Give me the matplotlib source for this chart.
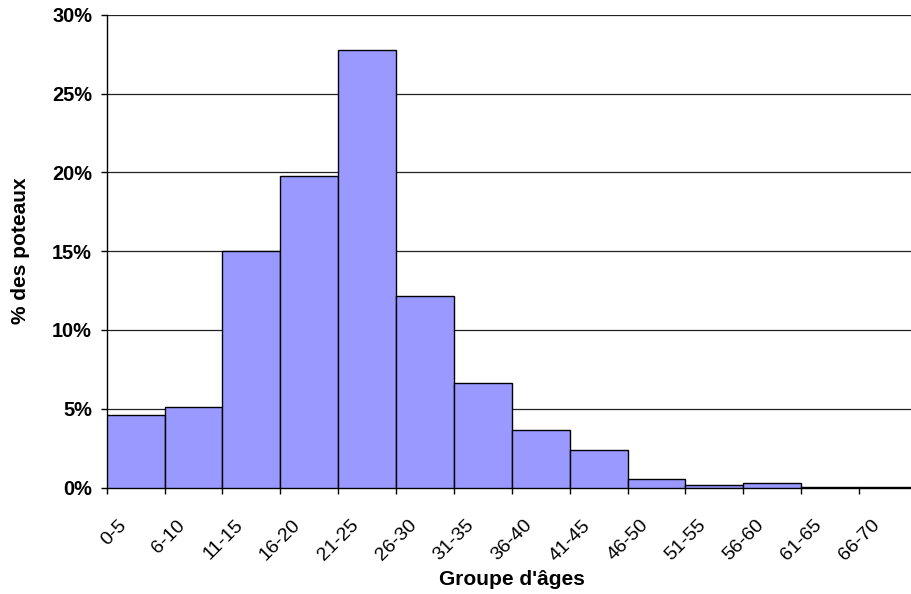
import matplotlib
matplotlib.use("Agg")
import matplotlib.pyplot as plt
import matplotlib.transforms as mtransforms
import numpy as np

# Répartition des poteaux par groupe d'âges (en %)
groupes = ["0-5", "6-10", "11-15", "16-20", "21-25", "26-30", "31-35",
           "36-40", "41-45", "46-50", "51-55", "56-60", "61-65", "66-70"]
pourcentages = [4.6, 5.13, 15.03, 19.77, 27.78, 12.17, 6.6,
                3.67, 2.41, 0.53, 0.19, 0.28, 0.06, 0.03]
graduations = [0, 5, 10, 15, 20, 25, 30]

plt.rcParams["font.family"] = ["Liberation Sans", "DejaVu Sans"]

fig = plt.figure(figsize=(9.12, 5.94), dpi=100)
# l'axe déborde un peu à droite, la dernière classe est coupée
ax = fig.add_axes([106.7 / 912, (594 - 487.5) / 594, 810.3 / 912, 472.8 / 594])

x = np.arange(len(groupes))
ax.bar(x, pourcentages, width=1.0, align="edge", color="#9999FF",
       edgecolor="black", linewidth=1.0, zorder=3)

ax.set_xlim(0, len(groupes))
ax.set_ylim(0, 30)
ax.set_yticks(graduations)
ax.set_yticklabels([f"{g}%" for g in graduations], fontsize=14.4, fontweight="bold")
ax.yaxis.grid(True, color="#222222", linewidth=0.9, zorder=0)
ax.set_axisbelow(True)

# graduations aux bornes des classes, libellés au centre
ax.set_xticks(np.arange(len(groupes) + 1))
ax.set_xticklabels([])
ax.tick_params(axis="x", direction="out", length=4, width=1, color="black")
ax.tick_params(axis="y", direction="out", length=4.5, width=1, color="black", pad=6)

decalage = mtransforms.ScaledTranslation(-8 / 100, -38.5 / 100, fig.dpi_scale_trans)
for i, g in enumerate(groupes):
    ax.text(i + 0.5, 0, g, transform=ax.get_xaxis_transform() + decalage,
            rotation=45, ha="right", va="baseline", rotation_mode="anchor",
            fontsize=14, clip_on=False)

for side in ["top", "right"]:
    ax.spines[side].set_visible(False)
ax.spines["left"].set_linewidth(1.0)
ax.spines["bottom"].set_linewidth(1.0)

ax.set_xlabel("Groupe d'âges", fontsize=15, fontweight="bold")
ax.xaxis.set_label_coords(0.5, -0.1745)
ax.xaxis.label.set_va("top")
ax.set_ylabel("% des poteaux", fontsize=15, fontweight="bold")
ax.yaxis.set_label_coords(-0.0947, 0.5)

fig.savefig("out.png", dpi=100)
plt.close(fig)
